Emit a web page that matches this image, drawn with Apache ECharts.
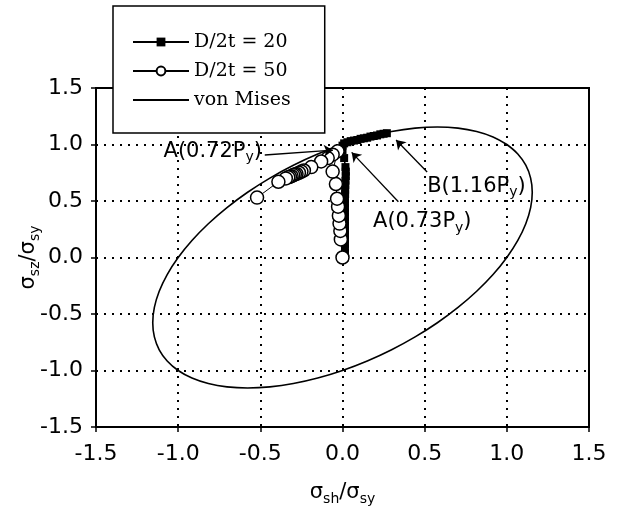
<!DOCTYPE html>
<html>
<head>
<meta charset="utf-8">
<script src="https://cdn.jsdelivr.net/npm/echarts@6/dist/echarts.min.js"></script>
<style>
  html, body { margin: 0; padding: 0; background: #fff; }
  #main { width: 626px; height: 511px; }
</style>
</head>
<body>
<div id="main"></div>
<script>
// series names as in the legend
const seriesNames = ['D/2t = 20', 'D/2t = 50', 'von Mises'];

// D/2t = 20 (filled squares), [sigma_sh, sigma_sz] / sigma_sy
const d20 = [
  [0.015, 0.0], [0.015, 0.04], [0.015, 0.08], [0.015, 0.12], [0.015, 0.16],
  [0.015, 0.2], [0.015, 0.24], [0.015, 0.28], [0.015, 0.32], [0.015, 0.36],
  [0.015, 0.4], [0.015, 0.44], [0.015, 0.48], [0.015, 0.52], [0.016, 0.56],
  [0.016, 0.6], [0.017, 0.64], [0.018, 0.68], [0.02, 0.72], [0.02, 0.76],
  [0.018, 0.8], [0.01, 0.88], [0.0, 0.95], [0.0, 0.99], [0.01, 1.01],
  [0.03, 1.02], [0.05, 1.03], [0.07, 1.035], [0.09, 1.04], [0.11, 1.05],
  [0.13, 1.055], [0.15, 1.06], [0.17, 1.07], [0.19, 1.075], [0.21, 1.08],
  [0.23, 1.09], [0.25, 1.095], [0.27, 1.1]
];

// D/2t = 50 (open circles)
const d50 = [
  [0.0, 0.0], [-0.01, 0.16], [-0.013, 0.235], [-0.018, 0.3], [-0.022, 0.37],
  [-0.027, 0.45], [-0.033, 0.52], [-0.04, 0.65], [-0.06, 0.76], [-0.03, 0.94],
  [-0.06, 0.91], [-0.09, 0.88], [-0.13, 0.85], [-0.19, 0.8], [-0.235, 0.77],
  [-0.25, 0.76], [-0.265, 0.75], [-0.28, 0.74], [-0.29, 0.735], [-0.3, 0.73],
  [-0.31, 0.72], [-0.32, 0.715], [-0.33, 0.71], [-0.345, 0.7], [-0.39, 0.67],
  [-0.52, 0.53]
];

// von Mises yield ellipse, read around the curve
const vonMises = [
  [1.0, 1.0], [0.9161, 1.0668], [0.8165, 1.1153], [0.7029, 1.1448], [0.5774, 1.1547],
  [0.4419, 1.1448], [0.2989, 1.1153], [0.1507, 1.0668], [0.0, 1.0], [-0.1507, 0.9161],
  [-0.2989, 0.8165], [-0.4419, 0.7029], [-0.5774, 0.5774], [-0.7029, 0.4419],
  [-0.8165, 0.2989], [-0.9161, 0.1507], [-1.0, 0.0], [-1.0668, -0.1507],
  [-1.1153, -0.2989], [-1.1448, -0.4419], [-1.1547, -0.5774], [-1.1448, -0.7029],
  [-1.1153, -0.8165], [-1.0668, -0.9161], [-1.0, -1.0], [-0.9161, -1.0668],
  [-0.8165, -1.1153], [-0.7029, -1.1448], [-0.5774, -1.1547], [-0.4419, -1.1448],
  [-0.2989, -1.1153], [-0.1507, -1.0668], [0.0, -1.0], [0.1507, -0.9161],
  [0.2989, -0.8165], [0.4419, -0.7029], [0.5774, -0.5774], [0.7029, -0.4419],
  [0.8165, -0.2989], [0.9161, -0.1507], [1.0, 0.0], [1.0668, 0.1507],
  [1.1153, 0.2989], [1.1448, 0.4419], [1.1547, 0.5774], [1.1448, 0.7029],
  [1.1153, 0.8165], [1.0668, 0.9161], [1.0, 1.0]
];

// axis range and tick step
const axisMin = -1.5;
const axisMax = 1.5;
const tickStep = 0.5;

// annotations (text anchor in data units) and their arrows [from, to]
const notes = [
  { text: 'A(0.72P', sub: 'y', at: [-0.49, 0.94], align: 'right' },
  { text: 'B(1.16P', sub: 'y', at: [0.515, 0.63], align: 'left' },
  { text: 'A(0.73P', sub: 'y', at: [0.186, 0.314], align: 'left' }
];
const arrows = [
  [[-0.473, 0.907], [-0.058, 0.95]],
  [[0.515, 0.757], [0.326, 1.04]],
  [[0.34, 0.494], [0.056, 0.93]]
];

const SANS = 'DejaVu Sans';
const SERIF = 'DejaVu Serif';

const nameRich = {
  m: { fontFamily: SANS, fontSize: 21, color: '#000', lineHeight: 26 },
  s: { fontFamily: SANS, fontSize: 14, color: '#000', lineHeight: 14, verticalAlign: 'bottom' }
};

const axisCommon = {
  type: 'value',
  min: axisMin,
  max: axisMax,
  interval: tickStep,
  nameLocation: 'middle',
  nameMoveOverlap: false,
  axisLine: { show: true, onZero: false, lineStyle: { color: '#000', width: 2 } },
  axisTick: { show: true, inside: false, length: 5, lineStyle: { color: '#000', width: 1.5 } },
  axisLabel: {
    color: '#000', fontFamily: SANS, fontSize: 22,
    formatter: v => v.toFixed(1)
  },
  splitLine: { show: true, lineStyle: { color: '#000', width: 2, type: [2, 6] } },
  nameTextStyle: { rich: nameRich }
};

const chart = echarts.init(document.getElementById('main'));

const option = {
  animation: false,
  backgroundColor: '#fff',
  grid: {
    left: 96, right: 37, top: 88, bottom: 79,
    show: true, borderColor: '#000', borderWidth: 2
  },
  xAxis: Object.assign({}, axisCommon, {
    name: '{m|σ}{s|sh}{m|/σ}{s|sy}',
    nameGap: 53,
    axisLabel: Object.assign({}, axisCommon.axisLabel, { margin: 16 })
  }),
  yAxis: Object.assign({}, axisCommon, {
    name: '{m|σ}{s|sz}{m|/σ}{s|sy}',
    nameGap: 54,
    nameRotate: 90,
    axisLabel: Object.assign({}, axisCommon.axisLabel, { margin: 13 })
  }),
  legend: {
    orient: 'vertical',
    left: 113, top: 6,
    padding: [26, 34, 23, 19],
    itemGap: 9,
    itemWidth: 56,
    itemHeight: 11,
    backgroundColor: '#fff',
    borderColor: '#000',
    borderWidth: 1.5,
    borderRadius: 0,
    textStyle: { fontFamily: SERIF, fontSize: 19, color: '#000', lineHeight: 20 },
    data: [
      seriesNames[0],
      seriesNames[1],
      { name: seriesNames[2], itemStyle: { opacity: 0 } }
    ]
  },
  series: [
    {
      name: seriesNames[0],
      type: 'line',
      data: d20,
      symbol: 'rect',
      symbolSize: 8,
      itemStyle: { color: '#000' },
      lineStyle: { color: '#000', width: 1.5 },
      emphasis: { disabled: true },
      z: 3
    },
    {
      name: seriesNames[1],
      type: 'line',
      data: d50,
      symbol: 'circle',
      symbolSize: 13,
      itemStyle: { color: '#fff', borderColor: '#000', borderWidth: 1.5 },
      lineStyle: { color: '#000', width: 1 },
      emphasis: { disabled: true },
      z: 4
    },
    {
      name: seriesNames[2],
      type: 'line',
      data: vonMises,
      smooth: 0.4,
      symbol: 'none',
      itemStyle: { color: '#000' },
      lineStyle: { color: '#000', width: 1.6 },
      emphasis: { disabled: true },
      z: 2,
      markLine: {
        silent: true,
        symbol: ['none', 'arrow'],
        symbolSize: 9,
        lineStyle: { color: '#000', width: 1.3, type: 'solid' },
        label: { show: false },
        data: arrows.map(a => [{ coord: a[0] }, { coord: a[1] }])
      }
    }
  ]
};

chart.setOption(option);

// annotation texts with subscript, placed from data coordinates
const toPx = p => chart.convertToPixel({ gridIndex: 0 }, p);
chart.setOption({
  graphic: notes.map(n => {
    const p = toPx(n.at);
    return {
      type: 'text',
      x: p[0],
      y: p[1],
      z: 10,
      style: {
        text: '{m|' + n.text + '}{s|' + n.sub + '}{m|)}',
        align: n.align,
        verticalAlign: 'middle',
        rich: {
          m: { fontFamily: SANS, fontSize: 21, fill: '#000', lineHeight: 26 },
          s: { fontFamily: SANS, fontSize: 14, fill: '#000', lineHeight: 14, verticalAlign: 'bottom' }
        }
      }
    };
  })
});
</script>
</body>
</html>
